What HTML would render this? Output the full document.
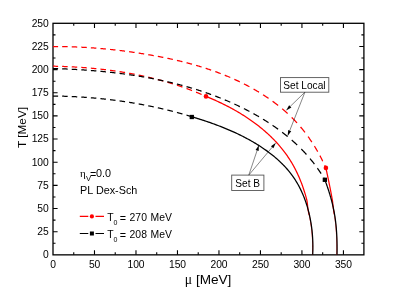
<!DOCTYPE html>
<html><head><meta charset="utf-8"><title>chart</title>
<style>html,body{margin:0;padding:0;background:#fff;}body{width:410px;height:290px;overflow:hidden;position:relative;font-family:"Liberation Sans",sans-serif;}</style>
</head><body>
<svg width="410" height="290" viewBox="0 0 410 290" style="position:absolute;left:0;top:0;will-change:transform">
<rect width="410" height="290" fill="#fff"/>
<path d="M73.75,254.85 v-2.5 M73.75,23.30 v2.5 M94.49,254.85 v-4.6 M94.49,23.30 v4.6 M115.23,254.85 v-2.5 M115.23,23.30 v2.5 M135.98,254.85 v-4.6 M135.98,23.30 v4.6 M156.72,254.85 v-2.5 M156.72,23.30 v2.5 M177.47,254.85 v-4.6 M177.47,23.30 v4.6 M198.22,254.85 v-2.5 M198.22,23.30 v2.5 M218.96,254.85 v-4.6 M218.96,23.30 v4.6 M239.70,254.85 v-2.5 M239.70,23.30 v2.5 M260.45,254.85 v-4.6 M260.45,23.30 v4.6 M281.19,254.85 v-2.5 M281.19,23.30 v2.5 M301.94,254.85 v-4.6 M301.94,23.30 v4.6 M322.69,254.85 v-2.5 M322.69,23.30 v2.5 M343.43,254.85 v-4.6 M343.43,23.30 v4.6 M53.0,243.27 h2.5 M363.90,243.27 h-2.5 M53.0,231.69 h4.6 M363.90,231.69 h-4.6 M53.0,220.12 h2.5 M363.90,220.12 h-2.5 M53.0,208.54 h4.6 M363.90,208.54 h-4.6 M53.0,196.96 h2.5 M363.90,196.96 h-2.5 M53.0,185.38 h4.6 M363.90,185.38 h-4.6 M53.0,173.81 h2.5 M363.90,173.81 h-2.5 M53.0,162.23 h4.6 M363.90,162.23 h-4.6 M53.0,150.65 h2.5 M363.90,150.65 h-2.5 M53.0,139.07 h4.6 M363.90,139.07 h-4.6 M53.0,127.50 h2.5 M363.90,127.50 h-2.5 M53.0,115.92 h4.6 M363.90,115.92 h-4.6 M53.0,104.34 h2.5 M363.90,104.34 h-2.5 M53.0,92.77 h4.6 M363.90,92.77 h-4.6 M53.0,81.19 h2.5 M363.90,81.19 h-2.5 M53.0,69.61 h4.6 M363.90,69.61 h-4.6 M53.0,58.03 h2.5 M363.90,58.03 h-2.5 M53.0,46.46 h4.6 M363.90,46.46 h-4.6 M53.0,34.88 h2.5 M363.90,34.88 h-2.5" stroke="#000" stroke-width="1.1" fill="none"/>
<rect x="53.0" y="23.30" width="310.90" height="231.55" fill="none" stroke="#000" stroke-width="1.3"/>
<path d="M53.00,46.60 L53.62,46.60 L54.24,46.59 L54.87,46.59 L55.49,46.59 L56.11,46.59 L56.73,46.59 L57.36,46.59 L57.98,46.59 L58.10,46.59 M62.17,46.62 L62.35,46.62 L62.97,46.63 L63.60,46.64 L64.23,46.65 L64.85,46.66 L65.48,46.67 L66.10,46.68 L66.73,46.70 L67.36,46.71 L67.67,46.72 M71.73,46.83 L71.75,46.83 L72.38,46.85 L73.01,46.87 L73.64,46.89 L74.26,46.91 L74.89,46.93 L75.52,46.96 L76.15,46.98 L76.78,47.01 L77.23,47.03 M81.30,47.21 L81.82,47.24 L82.45,47.27 L83.09,47.30 L83.72,47.34 L84.35,47.37 L84.98,47.41 L85.61,47.44 L86.24,47.48 L86.80,47.51 M90.86,47.77 L91.30,47.80 L91.93,47.85 L92.57,47.89 L93.20,47.93 L93.83,47.98 L94.46,48.03 L95.10,48.08 L95.73,48.12 L96.36,48.17 M100.43,48.50 L100.80,48.54 L101.43,48.59 L102.06,48.65 L102.70,48.70 L103.33,48.76 L103.97,48.82 L104.60,48.88 L105.23,48.94 L105.87,49.00 L105.93,49.00 M109.99,49.40 L110.31,49.44 L110.94,49.50 L111.57,49.57 L112.21,49.64 L112.84,49.71 L113.48,49.77 L114.11,49.84 L114.74,49.91 L115.38,49.99 L115.49,50.00 M119.56,50.47 L119.81,50.50 L120.45,50.58 L121.08,50.66 L121.72,50.73 L122.35,50.81 L122.98,50.89 L123.62,50.97 L124.25,51.05 L124.88,51.14 L125.06,51.16 M129.12,51.70 L129.31,51.73 L129.95,51.82 L130.58,51.90 L131.21,51.99 L131.85,52.08 L132.48,52.17 L133.11,52.26 L133.74,52.35 L134.37,52.45 L134.62,52.48 M138.69,53.09 L138.80,53.11 L139.43,53.21 L140.06,53.31 L140.69,53.41 L141.32,53.51 L141.95,53.61 L142.58,53.71 L143.21,53.81 L143.84,53.91 L144.19,53.97 M148.25,54.65 L148.88,54.76 L149.50,54.87 L150.13,54.97 L150.76,55.08 L151.39,55.20 L152.02,55.31 L152.64,55.42 L153.27,55.53 L153.75,55.62 M157.82,56.37 L158.29,56.46 L158.91,56.58 L159.54,56.70 L160.16,56.82 L160.79,56.94 L161.41,57.06 L162.04,57.18 L162.66,57.31 L163.28,57.43 L163.32,57.44 M167.38,58.27 L167.64,58.33 L168.27,58.46 L168.89,58.59 L169.51,58.72 L170.13,58.86 L170.75,58.99 L171.37,59.13 L171.99,59.26 L172.61,59.40 L172.88,59.46 M176.95,60.38 L177.56,60.53 L178.18,60.67 L178.80,60.82 L179.41,60.97 L180.03,61.12 L180.64,61.26 L181.26,61.41 L181.88,61.56 L182.45,61.71 M186.51,62.74 L186.79,62.81 L187.40,62.97 L188.01,63.13 L188.62,63.29 L189.23,63.45 L189.84,63.62 L190.45,63.78 L191.06,63.95 L191.67,64.11 L192.01,64.21 M196.08,65.36 L196.54,65.49 L197.14,65.67 L197.75,65.85 L198.35,66.02 L198.96,66.20 L199.56,66.39 L200.17,66.57 L200.77,66.75 L201.37,66.94 L201.58,67.00 M205.64,68.28 L206.18,68.46 L206.78,68.65 L207.38,68.85 L207.98,69.05 L208.58,69.25 L209.17,69.45 L209.77,69.65 L210.37,69.85 L210.96,70.05 L211.14,70.12 M215.21,71.55 L215.71,71.73 L216.30,71.95 L216.89,72.16 L217.48,72.38 L218.07,72.60 L218.66,72.82 L219.25,73.04 L219.84,73.27 L220.43,73.49 L220.71,73.60 M224.77,75.20 L225.11,75.34 L225.70,75.58 L226.28,75.82 L226.86,76.05 L227.44,76.30 L228.02,76.54 L228.60,76.78 L229.18,77.03 L229.76,77.28 L230.27,77.49 M234.34,79.29 L234.37,79.30 L234.95,79.56 L235.52,79.82 L236.09,80.09 L236.67,80.35 L237.24,80.62 L237.81,80.89 L238.38,81.16 L238.95,81.43 L239.52,81.70 L239.84,81.85 M243.90,83.86 L244.05,83.93 L244.61,84.22 L245.17,84.51 L245.73,84.79 L246.29,85.09 L246.86,85.38 L247.42,85.67 L247.97,85.97 L248.53,86.27 L249.09,86.57 L249.40,86.73 M253.47,88.98 L253.53,89.02 L254.08,89.33 L254.63,89.65 L255.18,89.96 L255.73,90.28 L256.28,90.60 L256.83,90.93 L257.37,91.25 L257.92,91.58 L258.46,91.90 L258.97,92.21 M263.03,94.74 L263.32,94.92 L263.86,95.27 L264.39,95.61 L264.92,95.96 L265.45,96.31 L265.98,96.66 L266.51,97.02 L267.04,97.37 L267.57,97.73 L268.09,98.08 L268.53,98.38 M272.60,101.26 L272.77,101.38 L273.28,101.76 L273.79,102.13 L274.30,102.51 L274.81,102.89 L275.32,103.27 L275.82,103.66 L276.33,104.04 L276.83,104.43 L277.33,104.82 L277.83,105.21 L278.10,105.42 M282.16,108.72 L282.26,108.81 L282.75,109.21 L283.23,109.63 L283.71,110.04 L284.19,110.45 L284.67,110.87 L285.14,111.28 L285.62,111.70 L286.09,112.12 L286.56,112.55 L287.03,112.97 L287.49,113.40 L287.66,113.55 M291.73,117.43 L292.06,117.76 L292.51,118.20 L292.95,118.65 L293.39,119.10 L293.83,119.55 L294.27,120.01 L294.70,120.46 L295.14,120.92 L295.57,121.38 L296.00,121.84 L296.43,122.30 L296.85,122.76 L297.00,122.92 M300.57,126.99 L300.59,127.02 L301.00,127.50 L301.40,127.99 L301.80,128.47 L302.20,128.96 L302.60,129.45 L303.00,129.94 L303.39,130.43 L303.78,130.92 L304.17,131.41 L304.56,131.91 L304.94,132.41 L305.00,132.49 M308.03,136.55 L308.33,136.96 L308.69,137.48 L309.06,137.99 L309.42,138.51 L309.78,139.03 L310.14,139.55 L310.49,140.07 L310.85,140.59 L311.20,141.12 L311.55,141.64 L311.82,142.05 M314.42,146.12 L314.62,146.44 L314.95,146.98 L315.28,147.53 L315.61,148.07 L315.93,148.61 L316.26,149.16 L316.58,149.71 L316.90,150.26 L317.22,150.81 L317.53,151.36 L317.68,151.62 M319.92,155.68 L320.00,155.82 L320.30,156.38 L320.59,156.94 L320.89,157.51 L321.18,158.08 L321.47,158.65 L321.76,159.21 L322.05,159.79 L322.34,160.36 L322.62,160.93 L322.75,161.18 M324.69,165.25 L324.84,165.56 L325.11,166.14 L325.37,166.73 L325.64,167.31 L325.90,167.90" fill="none" stroke="#ff0000" stroke-width="1.25" stroke-linejoin="round"/>
<path d="M53.00,66.20 L53.31,66.21 L53.63,66.21 L53.94,66.22 L54.25,66.22 L54.57,66.23 L54.88,66.24 L55.19,66.24 L55.51,66.25 L55.82,66.26 L56.13,66.26 L56.45,66.27 L56.76,66.28 L57.08,66.29 L57.39,66.30 L57.70,66.30 L58.02,66.31 L58.10,66.31 M62.17,66.44 L62.41,66.45 L62.72,66.46 L63.04,66.47 L63.35,66.48 L63.66,66.49 L63.98,66.50 L64.29,66.51 L64.61,66.53 L64.92,66.54 L65.23,66.55 L65.55,66.56 L65.86,66.57 L66.18,66.59 L66.49,66.60 L66.80,66.61 L67.12,66.63 L67.43,66.64 L67.67,66.65 M71.73,66.84 L71.83,66.85 L72.14,66.86 L72.46,66.88 L72.77,66.90 L73.09,66.91 L73.40,66.93 L73.71,66.95 L74.03,66.97 L74.34,66.98 L74.66,67.00 L74.97,67.02 L75.29,67.04 L75.60,67.06 L75.91,67.07 L76.23,67.09 L76.54,67.11 L76.86,67.13 L77.17,67.15 L77.23,67.15 M81.30,67.42 L81.57,67.44 L81.88,67.46 L82.20,67.48 L82.51,67.51 L82.82,67.53 L83.14,67.55 L83.45,67.58 L83.77,67.60 L84.08,67.62 L84.39,67.65 L84.71,67.67 L85.02,67.69 L85.34,67.72 L85.65,67.74 L85.96,67.77 L86.28,67.79 L86.59,67.82 L86.80,67.83 M90.86,68.18 L90.99,68.19 L91.30,68.22 L91.61,68.25 L91.93,68.28 L92.24,68.30 L92.56,68.33 L92.87,68.36 L93.18,68.39 L93.50,68.42 L93.81,68.45 L94.12,68.48 L94.44,68.51 L94.75,68.54 L95.06,68.57 L95.38,68.60 L95.69,68.63 L96.01,68.67 L96.32,68.70 L96.36,68.70 M100.43,69.13 L100.71,69.16 L101.02,69.19 L101.33,69.23 L101.65,69.26 L101.96,69.30 L102.27,69.34 L102.59,69.37 L102.90,69.41 L103.21,69.44 L103.52,69.48 L103.84,69.52 L104.15,69.55 L104.46,69.59 L104.78,69.63 L105.09,69.66 L105.40,69.70 L105.72,69.74 L105.93,69.77 M109.99,70.28 L110.09,70.29 L110.40,70.34 L110.72,70.38 L111.03,70.42 L111.34,70.46 L111.65,70.50 L111.97,70.55 L112.28,70.59 L112.59,70.63 L112.90,70.67 L113.21,70.72 L113.53,70.76 L113.84,70.80 L114.15,70.85 L114.46,70.89 L114.77,70.94 L115.09,70.98 L115.40,71.03 L115.49,71.04 M119.56,71.65 L119.76,71.68 L120.07,71.73 L120.38,71.78 L120.69,71.83 L121.01,71.88 L121.32,71.92 L121.63,71.97 L121.94,72.02 L122.25,72.07 L122.56,72.12 L122.87,72.17 L123.18,72.23 L123.49,72.28 L123.80,72.33 L124.11,72.38 L124.43,72.43 L124.74,72.48 L125.05,72.54 L125.06,72.54 M129.12,73.24 L129.39,73.29 L129.70,73.35 L130.01,73.40 L130.32,73.46 L130.63,73.52 L130.94,73.57 L131.25,73.63 L131.56,73.69 L131.87,73.75 L132.18,73.80 L132.49,73.86 L132.80,73.92 L133.10,73.98 L133.41,74.04 L133.72,74.10 L134.03,74.16 L134.34,74.22 L134.62,74.27 M138.69,75.08 L138.97,75.14 L139.28,75.20 L139.59,75.27 L139.90,75.33 L140.20,75.40 L140.51,75.46 L140.82,75.52 L141.13,75.59 L141.44,75.66 L141.74,75.72 L142.05,75.79 L142.36,75.85 L142.67,75.92 L142.97,75.99 L143.28,76.05 L143.59,76.12 L143.90,76.19 L144.19,76.25 M148.25,77.18 L148.50,77.23 L148.80,77.30 L149.11,77.38 L149.42,77.45 L149.72,77.52 L150.03,77.59 L150.33,77.67 L150.64,77.74 L150.94,77.81 L151.25,77.89 L151.56,77.96 L151.86,78.04 L152.17,78.11 L152.47,78.19 L152.78,78.26 L153.08,78.34 L153.39,78.41 L153.69,78.49 L153.75,78.50 M157.82,79.54 L157.96,79.58 L158.26,79.66 L158.57,79.74 L158.87,79.82 L159.17,79.90 L159.48,79.99 L159.78,80.07 L160.08,80.15 L160.39,80.23 L160.69,80.31 L160.99,80.40 L161.30,80.48 L161.60,80.56 L161.90,80.65 L162.21,80.73 L162.51,80.81 L162.81,80.90 L163.11,80.98 L163.32,81.04 M167.38,82.21 L167.65,82.28 L167.95,82.37 L168.25,82.46 L168.55,82.55 L168.85,82.64 L169.15,82.73 L169.45,82.82 L169.75,82.91 L170.05,83.01 L170.35,83.10 L170.66,83.19 L170.96,83.28 L171.26,83.37 L171.56,83.47 L171.86,83.56 L172.16,83.65 L172.46,83.75 L172.76,83.84 L172.88,83.88 M176.95,85.18 L176.95,85.18 L177.25,85.28 L177.54,85.38 L177.84,85.48 L178.14,85.58 L178.44,85.68 L178.74,85.78 L179.04,85.88 L179.33,85.98 L179.63,86.08 L179.93,86.18 L180.23,86.28 L180.52,86.38 L180.82,86.48 L181.12,86.59 L181.42,86.69 L181.71,86.79 L182.01,86.89 L182.31,87.00 L182.45,87.05 M186.51,88.50 L186.75,88.58 L187.04,88.69 L187.34,88.80 L187.63,88.91 L187.93,89.02 L188.22,89.13 L188.52,89.24 L188.81,89.35 L189.11,89.46 L189.40,89.57 L189.70,89.68 L189.99,89.79 L190.29,89.90 L190.58,90.01 L190.87,90.13 L191.17,90.24 L191.46,90.35 L191.75,90.46 L192.01,90.56 M196.08,92.17 L196.14,92.20 L196.44,92.32 L196.73,92.44 L197.02,92.56 L197.31,92.67 L197.60,92.79 L197.89,92.91 L198.18,93.03 L198.48,93.15 L198.77,93.28 L199.06,93.40 L199.35,93.52 L199.64,93.64 L199.93,93.76 L200.22,93.88 L200.51,94.01 L200.80,94.13 L201.09,94.25 L201.38,94.38 L201.58,94.46 M205.64,96.24 L205.71,96.27 L206.00,96.40" fill="none" stroke="#ff0000" stroke-width="1.25" stroke-linejoin="round"/>
<path d="M325.90,167.90 L326.01,168.44 L326.13,168.98 L326.24,169.52 L326.36,170.06 L326.47,170.60 L326.59,171.14 L326.70,171.68 L326.82,172.22 L326.93,172.76 L327.05,173.30 L327.16,173.84 L327.28,174.38 L327.39,174.92 L327.50,175.46 L327.62,176.00 L327.73,176.54 L327.85,177.08 L327.96,177.63 L328.07,178.17 L328.19,178.71 L328.30,179.25 L328.41,179.79 L328.52,180.33 L328.64,180.87 L328.75,181.41 L328.86,181.96 L328.97,182.50 L329.08,183.04 L329.19,183.58 L329.30,184.12 L329.41,184.67 L329.52,185.21 L329.63,185.75 L329.74,186.29 L329.85,186.83 L329.96,187.38 L330.07,187.92 L330.17,188.46 L330.28,189.00 L330.39,189.55 L330.49,190.09 L330.60,190.63 L330.70,191.18 L330.81,191.72 L330.91,192.26 L331.02,192.81 L331.12,193.35 L331.22,193.89 L331.33,194.44 L331.43,194.98 L331.53,195.52 L331.63,196.07 L331.73,196.61 L331.83,197.16 L331.93,197.70 L332.03,198.24 L332.13,198.79 L332.22,199.33 L332.32,199.88 L332.41,200.42 L332.49,200.97 L332.57,201.51 L332.63,202.06 L332.69,202.60 L332.75,203.15 L332.81,203.69 L332.86,204.24 L332.91,204.78 L332.97,205.33 L333.03,205.87 L333.09,206.42 L333.15,206.96 L333.22,207.51 L333.29,208.06 L333.36,208.60 L333.44,209.15 L333.52,209.69 L333.60,210.24 L333.69,210.79 L333.78,211.33 L333.87,211.88 L333.97,212.43 L334.06,212.97 L334.16,213.52 L334.25,214.07" fill="none" stroke="#ff0000" stroke-width="1.25" stroke-linejoin="round"/>
<path d="M334.25,214.07 L334.35,214.61 L334.44,215.16 L334.53,215.71 L334.61,216.26 L334.70,216.80 L334.78,217.35 L334.86,217.90 L334.94,218.45 L335.02,218.99 L335.09,219.54 L335.17,220.09 L335.24,220.64 L335.31,221.19 L335.37,221.74 L335.44,222.28 L335.50,222.83 L335.57,223.38 L335.63,223.93 L335.68,224.48 L335.74,225.03 L335.80,225.58 L335.85,226.13 L335.90,226.68 L335.95,227.23 L336.00,227.78 L336.05,228.33 L336.09,228.88 L336.14,229.43 L336.18,229.98 L336.22,230.53 L336.26,231.08 L336.30,231.63 L336.33,232.18 L336.37,232.73 L336.40,233.28 L336.43,233.83 L336.46,234.38 L336.49,234.93 L336.52,235.48 L336.55,236.03 L336.57,236.59 L336.60,237.14 L336.62,237.69 L336.64,238.24 L336.66,238.79 L336.68,239.34 L336.69,239.90 L336.71,240.45 L336.73,241.00 L336.74,241.55 L336.75,242.11 L336.76,242.66 L336.77,243.21 L336.78,243.77 L336.79,244.32 L336.80,244.87 L336.80,245.42 L336.81,245.98 L336.81,246.53 L336.81,247.09 L336.82,247.64 L336.82,248.19 L336.82,248.75 L336.81,249.30 L336.81,249.86 L336.81,250.41 L336.80,250.96 L336.80,251.52 L336.79,252.07 L336.79,252.63 L336.78,253.18 L336.77,253.74 L336.76,254.29 L336.75,254.85" fill="none" stroke="#ff0000" stroke-width="0.8" stroke-linejoin="round"/>
<path d="M206.00,96.40 L207.19,96.88 L208.38,97.37 L209.56,97.87 L210.75,98.37 L211.93,98.87 L213.12,99.39 L214.30,99.91 L215.48,100.44 L216.66,100.97 L217.84,101.51 L219.02,102.06 L220.19,102.61 L221.36,103.17 L222.53,103.74 L223.70,104.32 L224.87,104.90 L226.03,105.48 L227.19,106.08 L228.35,106.68 L229.50,107.29 L230.66,107.90 L231.80,108.52 L232.95,109.15 L234.09,109.79 L235.23,110.43 L236.36,111.08 L237.49,111.74 L238.62,112.40 L239.74,113.07 L240.86,113.75 L241.97,114.43 L243.08,115.12 L244.18,115.82 L245.28,116.53 L246.37,117.24 L247.46,117.96 L248.54,118.69 L249.62,119.42 L250.69,120.16 L251.75,120.91 L252.81,121.67 L253.87,122.43 L254.92,123.20 L255.96,123.98 L256.99,124.76 L258.02,125.56 L259.04,126.36 L260.06,127.16 L261.06,127.98 L262.06,128.80 L263.06,129.63 L264.04,130.47 L265.02,131.31 L265.99,132.16 L266.95,133.02 L267.91,133.89 L268.86,134.77 L269.79,135.65 L270.72,136.54 L271.65,137.44 L272.56,138.34 L273.46,139.26 L274.36,140.18 L275.24,141.11 L276.12,142.04 L276.99,142.99 L277.85,143.94 L278.69,144.90 L279.53,145.86 L280.36,146.84 L281.18,147.82 L281.99,148.81 L282.79,149.81 L283.57,150.82 L284.35,151.84 L285.12,152.86 L285.87,153.89 L286.62,154.93 L287.35,155.98 L288.07,157.03 L288.78,158.09 L289.48,159.17 L290.17,160.25 L290.84,161.33 L291.51,162.43 L292.16,163.53 L292.80,164.64 L293.43,165.76 L294.05,166.89 L294.65,168.02 L295.25,169.16 L295.83,170.30 L296.41,171.46 L296.97,172.62 L297.52,173.78 L298.06,174.95 L298.59,176.13 L299.11,177.32 L299.62,178.51 L300.11,179.70 L300.60,180.90 L301.07,182.11 L301.54,183.32 L301.99,184.54 L302.44,185.76 L302.87,186.99 L303.30,188.22 L303.71,189.45 L304.11,190.69 L304.51,191.94 L304.89,193.18 L305.26,194.44 L305.63,195.69 L305.98,196.95 L306.32,198.21 L306.66,199.48 L306.96,200.75 L307.18,202.02 L307.34,203.29 L307.47,204.57 L307.59,205.85 L307.72,207.13 L307.88,208.42 L308.07,209.70 L308.30,210.99 L308.57,212.28 L308.87,213.57 L309.17,214.86" fill="none" stroke="#ff0000" stroke-width="1.25" stroke-linejoin="round"/>
<path d="M309.17,214.86 L309.46,216.16 L309.73,217.45 L309.99,218.75 L310.23,220.05 L310.47,221.34 L310.69,222.64 L310.89,223.94 L311.09,225.24 L311.27,226.54 L311.44,227.84 L311.60,229.14 L311.75,230.44 L311.89,231.74 L312.01,233.03 L312.12,234.33 L312.23,235.63 L312.31,236.92 L312.39,238.21 L312.46,239.51 L312.52,240.80 L312.56,242.09 L312.60,243.37 L312.62,244.66 L312.64,245.94 L312.64,247.22 L312.63,248.50 L312.62,249.78 L312.59,251.05 L312.55,252.32 L312.51,253.59 L312.45,254.85" fill="none" stroke="#ff0000" stroke-width="0.8" stroke-linejoin="round"/>
<path d="M53.00,68.50 L53.60,68.52 L54.20,68.54 L54.81,68.55 L55.41,68.57 L56.01,68.59 L56.62,68.61 L57.22,68.63 L57.82,68.65 L58.10,68.66 M62.17,68.81 L62.66,68.83 L63.26,68.86 L63.87,68.88 L64.48,68.91 L65.08,68.93 L65.69,68.96 L66.29,68.99 L66.90,69.01 L67.51,69.04 L67.67,69.05 M71.73,69.25 L71.76,69.25 L72.36,69.28 L72.97,69.31 L73.58,69.34 L74.19,69.38 L74.80,69.41 L75.41,69.44 L76.02,69.48 L76.62,69.51 L77.23,69.55 M81.30,69.80 L81.50,69.81 L82.11,69.85 L82.72,69.89 L83.33,69.93 L83.94,69.97 L84.55,70.02 L85.16,70.06 L85.77,70.10 L86.38,70.14 L86.80,70.17 M90.86,70.48 L91.27,70.51 L91.88,70.56 L92.49,70.61 L93.10,70.66 L93.71,70.71 L94.33,70.76 L94.94,70.81 L95.55,70.86 L96.16,70.91 L96.36,70.93 M100.43,71.30 L100.44,71.30 L101.06,71.35 L101.67,71.41 L102.28,71.47 L102.89,71.53 L103.50,71.59 L104.12,71.65 L104.73,71.71 L105.34,71.77 L105.93,71.83 M109.99,72.26 L110.24,72.29 L110.85,72.35 L111.46,72.42 L112.08,72.49 L112.69,72.56 L113.30,72.63 L113.91,72.70 L114.52,72.77 L115.14,72.84 L115.49,72.88 M119.56,73.38 L120.03,73.44 L120.64,73.52 L121.26,73.59 L121.87,73.67 L122.48,73.75 L123.09,73.83 L123.70,73.91 L124.31,74.00 L124.93,74.08 L125.06,74.10 M129.12,74.66 L129.20,74.68 L129.81,74.77 L130.42,74.85 L131.04,74.94 L131.65,75.03 L132.26,75.13 L132.87,75.22 L133.48,75.31 L134.09,75.40 L134.62,75.49 M138.69,76.13 L138.96,76.18 L139.57,76.28 L140.18,76.38 L140.79,76.48 L141.40,76.58 L142.01,76.68 L142.62,76.79 L143.23,76.89 L143.83,77.00 L144.19,77.06 M148.25,77.79 L148.69,77.87 L149.30,77.98 L149.91,78.09 L150.51,78.21 L151.12,78.32 L151.73,78.44 L152.33,78.56 L152.94,78.67 L153.54,78.79 L153.75,78.83 M157.82,79.65 L158.38,79.77 L158.99,79.89 L159.59,80.02 L160.19,80.14 L160.80,80.27 L161.40,80.40 L162.00,80.53 L162.60,80.66 L163.21,80.79 L163.32,80.82 M167.38,81.73 L167.42,81.74 L168.02,81.88 L168.62,82.02 L169.22,82.16 L169.82,82.30 L170.42,82.44 L171.02,82.58 L171.62,82.72 L172.22,82.87 L172.81,83.01 L172.88,83.03 M176.95,84.04 L177.00,84.06 L177.59,84.21 L178.19,84.36 L178.78,84.52 L179.38,84.67 L179.98,84.83 L180.57,84.99 L181.16,85.15 L181.76,85.30 L182.35,85.46 L182.45,85.49 M186.51,86.61 L187.09,86.78 L187.69,86.95 L188.28,87.12 L188.87,87.29 L189.46,87.46 L190.05,87.63 L190.64,87.80 L191.23,87.98 L191.82,88.15 L192.01,88.21 M196.08,89.45 L196.51,89.59 L197.10,89.77 L197.69,89.96 L198.27,90.15 L198.86,90.33 L199.44,90.52 L200.02,90.71 L200.61,90.90 L201.19,91.09 L201.58,91.22 M205.64,92.59 L205.84,92.66 L206.42,92.86 L207.00,93.06 L207.58,93.26 L208.16,93.46 L208.74,93.67 L209.31,93.87 L209.89,94.08 L210.47,94.29 L211.05,94.50 L211.14,94.53 M215.21,96.04 L215.64,96.20 L216.21,96.42 L216.79,96.64 L217.36,96.86 L217.93,97.08 L218.50,97.31 L219.07,97.53 L219.64,97.75 L220.21,97.98 L220.71,98.18 M224.77,99.84 L225.31,100.06 L225.88,100.30 L226.44,100.54 L227.00,100.77 L227.57,101.02 L228.13,101.26 L228.69,101.50 L229.25,101.74 L229.81,101.99 L230.27,102.19 M234.34,104.01 L234.84,104.24 L235.40,104.50 L235.95,104.75 L236.51,105.01 L237.06,105.27 L237.62,105.53 L238.17,105.80 L238.72,106.06 L239.28,106.32 L239.83,106.59 L239.84,106.59 M243.90,108.59 L244.22,108.75 L244.77,109.03 L245.31,109.31 L245.86,109.59 L246.40,109.87 L246.95,110.15 L247.49,110.43 L248.04,110.71 L248.58,111.00 L249.12,111.28 L249.40,111.43 M253.47,113.63 L253.97,113.91 L254.51,114.21 L255.04,114.51 L255.58,114.81 L256.11,115.11 L256.64,115.42 L257.18,115.72 L257.71,116.03 L258.24,116.33 L258.77,116.64 L258.97,116.76 M263.03,119.18 L263.51,119.47 L264.03,119.80 L264.55,120.12 L265.07,120.44 L265.59,120.77 L266.11,121.09 L266.63,121.42 L267.14,121.75 L267.66,122.08 L268.17,122.41 L268.53,122.64 M272.60,125.34 L272.77,125.46 L273.27,125.81 L273.78,126.15 L274.28,126.50 L274.78,126.85 L275.29,127.20 L275.79,127.55 L276.29,127.91 L276.78,128.26 L277.28,128.62 L277.78,128.98 L278.10,129.21 M282.16,132.24 L282.19,132.26 L282.68,132.63 L283.16,133.01 L283.64,133.38 L284.12,133.76 L284.60,134.14 L285.08,134.52 L285.56,134.90 L286.04,135.28 L286.51,135.66 L286.99,136.05 L287.46,136.43 L287.66,136.60 M291.73,140.04 L292.11,140.38 L292.57,140.78 L293.03,141.19 L293.48,141.60 L293.93,142.00 L294.39,142.41 L294.84,142.82 L295.29,143.23 L295.73,143.65 L296.18,144.06 L296.63,144.48 L297.07,144.90 L297.23,145.05 M301.28,149.02 L301.42,149.16 L301.85,149.60 L302.27,150.04 L302.70,150.48 L303.12,150.92 L303.54,151.36 L303.96,151.80 L304.38,152.24 L304.79,152.69 L305.21,153.14 L305.62,153.59 L306.03,154.04 L306.44,154.49 L306.47,154.52 M310.00,158.59 L310.04,158.64 L310.43,159.11 L310.82,159.58 L311.21,160.05 L311.60,160.53 L311.98,161.00 L312.36,161.48 L312.74,161.96 L313.12,162.44 L313.50,162.92 L313.88,163.41 L314.25,163.89 L314.40,164.09 M317.39,168.15 L317.52,168.34 L317.88,168.84 L318.23,169.35 L318.58,169.85 L318.93,170.36 L319.28,170.87 L319.62,171.38 L319.96,171.89 L320.30,172.41 L320.64,172.93 L320.98,173.44 L321.11,173.65 M323.63,177.72 L323.91,178.19 L324.23,178.72 L324.54,179.26 L324.85,179.80" fill="none" stroke="#000000" stroke-width="1.25" stroke-linejoin="round"/>
<path d="M53.00,96.00 L53.28,96.00 L53.56,96.01 L53.85,96.01 L54.13,96.01 L54.41,96.02 L54.69,96.02 L54.97,96.03 L55.26,96.03 L55.54,96.04 L55.82,96.04 L56.10,96.05 L56.38,96.05 L56.66,96.06 L56.95,96.06 L57.23,96.07 L57.51,96.07 L57.79,96.08 L58.07,96.08 L58.10,96.08 M62.17,96.19 L62.30,96.19 L62.59,96.20 L62.87,96.21 L63.15,96.21 L63.43,96.22 L63.71,96.23 L64.00,96.24 L64.28,96.25 L64.56,96.26 L64.84,96.27 L65.12,96.28 L65.41,96.29 L65.69,96.30 L65.97,96.31 L66.25,96.32 L66.53,96.33 L66.81,96.34 L67.10,96.35 L67.38,96.36 L67.66,96.37 L67.67,96.37 M71.73,96.54 L71.89,96.55 L72.17,96.56 L72.45,96.57 L72.73,96.59 L73.02,96.60 L73.30,96.61 L73.58,96.63 L73.86,96.64 L74.14,96.66 L74.43,96.67 L74.71,96.68 L74.99,96.70 L75.27,96.71 L75.55,96.73 L75.83,96.74 L76.12,96.76 L76.40,96.77 L76.68,96.79 L76.96,96.80 L77.23,96.82 M81.30,97.06 L81.47,97.07 L81.75,97.09 L82.03,97.11 L82.31,97.13 L82.60,97.15 L82.88,97.17 L83.16,97.18 L83.44,97.20 L83.72,97.22 L84.00,97.24 L84.29,97.26 L84.57,97.28 L84.85,97.30 L85.13,97.32 L85.41,97.34 L85.69,97.36 L85.98,97.38 L86.26,97.40 L86.54,97.42 L86.80,97.44 M90.86,97.76 L91.04,97.77 L91.32,97.79 L91.60,97.82 L91.89,97.84 L92.17,97.86 L92.45,97.89 L92.73,97.91 L93.01,97.94 L93.29,97.96 L93.57,97.98 L93.85,98.01 L94.14,98.03 L94.42,98.06 L94.70,98.08 L94.98,98.11 L95.26,98.13 L95.54,98.16 L95.82,98.18 L96.10,98.21 L96.36,98.23 M100.43,98.62 L100.60,98.64 L100.88,98.67 L101.16,98.70 L101.44,98.73 L101.72,98.76 L102.00,98.79 L102.28,98.81 L102.57,98.84 L102.85,98.87 L103.13,98.90 L103.41,98.93 L103.69,98.96 L103.97,98.99 L104.25,99.02 L104.53,99.05 L104.81,99.08 L105.09,99.11 L105.37,99.14 L105.65,99.18 L105.93,99.21 M109.99,99.67 L110.14,99.69 L110.42,99.72 L110.70,99.76 L110.98,99.79 L111.26,99.83 L111.54,99.86 L111.82,99.89 L112.10,99.93 L112.38,99.96 L112.66,100.00 L112.94,100.03 L113.22,100.07 L113.50,100.10 L113.78,100.14 L114.06,100.17 L114.34,100.21 L114.62,100.25 L114.90,100.28 L115.18,100.32 L115.46,100.35 L115.49,100.36 M119.56,100.90 L119.66,100.92 L119.94,100.96 L120.22,101.00 L120.50,101.04 L120.78,101.08 L121.06,101.11 L121.34,101.15 L121.62,101.19 L121.89,101.23 L122.17,101.27 L122.45,101.31 L122.73,101.36 L123.01,101.40 L123.29,101.44 L123.57,101.48 L123.85,101.52 L124.13,101.56 L124.41,101.60 L124.69,101.64 L124.97,101.68 L125.06,101.70 M129.12,102.33 L129.15,102.33 L129.43,102.37 L129.71,102.42 L129.99,102.46 L130.27,102.51 L130.54,102.55 L130.82,102.60 L131.10,102.64 L131.38,102.69 L131.66,102.73 L131.94,102.78 L132.22,102.83 L132.49,102.87 L132.77,102.92 L133.05,102.97 L133.33,103.01 L133.61,103.06 L133.89,103.11 L134.16,103.15 L134.44,103.20 L134.62,103.23 M138.69,103.94 L138.89,103.98 L139.17,104.03 L139.45,104.08 L139.72,104.13 L140.00,104.18 L140.28,104.23 L140.56,104.28 L140.83,104.33 L141.11,104.38 L141.39,104.43 L141.67,104.48 L141.94,104.54 L142.22,104.59 L142.50,104.64 L142.78,104.69 L143.05,104.74 L143.33,104.80 L143.61,104.85 L143.89,104.90 L144.16,104.95 L144.19,104.96 M148.25,105.75 L148.32,105.77 L148.59,105.82 L148.87,105.88 L149.15,105.94 L149.42,105.99 L149.70,106.05 L149.98,106.10 L150.25,106.16 L150.53,106.22 L150.80,106.27 L151.08,106.33 L151.36,106.39 L151.63,106.45 L151.91,106.50 L152.19,106.56 L152.46,106.62 L152.74,106.68 L153.01,106.74 L153.29,106.79 L153.57,106.85 L153.75,106.89 M157.82,107.78 L157.98,107.81 L158.25,107.87 L158.53,107.93 L158.80,108.00 L159.08,108.06 L159.35,108.12 L159.63,108.18 L159.90,108.25 L160.18,108.31 L160.45,108.37 L160.73,108.43 L161.00,108.50 L161.28,108.56 L161.55,108.62 L161.83,108.69 L162.10,108.75 L162.38,108.81 L162.65,108.88 L162.93,108.94 L163.20,109.01 L163.32,109.03 M167.38,110.01 L167.59,110.06 L167.87,110.13 L168.14,110.20 L168.41,110.26 L168.69,110.33 L168.96,110.40 L169.24,110.47 L169.51,110.54 L169.78,110.61 L170.06,110.67 L170.33,110.74 L170.60,110.81 L170.88,110.88 L171.15,110.95 L171.42,111.02 L171.70,111.09 L171.97,111.16 L172.24,111.23 L172.52,111.30 L172.79,111.37 L172.88,111.39 M176.95,112.46 L177.16,112.52 L177.43,112.59 L177.70,112.67 L177.97,112.74 L178.25,112.82 L178.52,112.89 L178.79,112.96 L179.06,113.04 L179.33,113.11 L179.61,113.19 L179.88,113.26 L180.15,113.34 L180.42,113.41 L180.69,113.49 L180.97,113.56 L181.24,113.64 L181.51,113.72 L181.78,113.79 L182.05,113.87 L182.32,113.95 L182.45,113.98 M186.51,115.15 L186.66,115.19 L186.93,115.27 L187.21,115.35 L187.48,115.43 L187.75,115.51 L188.02,115.59 L188.29,115.67 L188.56,115.75 L188.83,115.83 L189.10,115.92 L189.37,116.00 L189.64,116.08 L189.91,116.16 L190.18,116.24 L190.45,116.32 L190.72,116.40 L190.99,116.49 L191.26,116.57 L191.53,116.65 L191.80,116.73" fill="none" stroke="#000000" stroke-width="1.25" stroke-linejoin="round"/>
<path d="M324.85,179.80 L325.02,180.25 L325.19,180.70 L325.35,181.15 L325.52,181.60 L325.69,182.05 L325.85,182.51 L326.02,182.96 L326.18,183.41 L326.34,183.86 L326.50,184.32 L326.66,184.77 L326.82,185.23 L326.98,185.68 L327.14,186.14 L327.30,186.59 L327.45,187.05 L327.61,187.50 L327.76,187.96 L327.92,188.42 L328.07,188.87 L328.22,189.33 L328.37,189.79 L328.52,190.25 L328.67,190.71 L328.81,191.17 L328.96,191.63 L329.10,192.09 L329.25,192.55 L329.39,193.01 L329.53,193.47 L329.67,193.93 L329.81,194.39 L329.95,194.85 L330.09,195.31 L330.22,195.78 L330.36,196.24 L330.49,196.70 L330.62,197.17 L330.76,197.63 L330.89,198.09 L331.01,198.56 L331.14,199.02 L331.27,199.49 L331.39,199.95 L331.52,200.42 L331.64,200.89 L331.76,201.35 L331.88,201.82 L332.00,202.29 L332.12,202.75 L332.23,203.22 L332.35,203.69 L332.46,204.16 L332.57,204.63 L332.68,205.09 L332.79,205.56 L332.90,206.03 L333.01,206.50 L333.11,206.97 L333.21,207.44 L333.32,207.91 L333.42,208.38 L333.51,208.85 L333.61,209.32 L333.71,209.80 L333.80,210.27 L333.89,210.74 L333.99,211.21 L334.08,211.68 L334.16,212.16 L334.25,212.63 L334.34,213.10 L334.42,213.57 L334.50,214.05 L334.58,214.52 L334.66,215.00 L334.74,215.47 L334.81,215.94 L334.89,216.42 L334.96,216.89 L335.03,217.37 L335.10,217.84 L335.17,218.32 L335.24,218.79 L335.31,219.27 L335.37,219.75 L335.43,220.22 L335.49,220.70 L335.55,221.17 L335.61,221.65 L335.67,222.13 L335.73,222.61 L335.78,223.08 L335.83,223.56 L335.89,224.04 L335.94,224.52 L335.99,224.99 L336.04,225.47 L336.08,225.95 L336.13,226.43 L336.17,226.91 L336.22,227.39 L336.26,227.87 L336.30,228.34 L336.34,228.82 L336.38,229.30 L336.41,229.78 L336.45,230.26 L336.49,230.74 L336.52,231.22 L336.55,231.70 L336.58,232.18 L336.61,232.66 L336.64,233.14 L336.67,233.62 L336.70,234.10 L336.73,234.58 L336.75,235.07 L336.77,235.55 L336.80,236.03 L336.82,236.51 L336.84,236.99 L336.86,237.47 L336.88,237.95 L336.90,238.44 L336.91,238.92 L336.93,239.40 L336.94,239.88 L336.96,240.36 L336.97,240.84 L336.98,241.33 L337.00,241.81 L337.01,242.29 L337.02,242.77 L337.02,243.26 L337.03,243.74 L337.04,244.22 L337.05,244.70 L337.05,245.19 L337.05,245.67 L337.06,246.15 L337.06,246.64 L337.06,247.12 L337.07,247.60 L337.07,248.08 L337.07,248.57 L337.06,249.05 L337.06,249.53 L337.06,250.02 L337.06,250.50 L337.05,250.98 L337.05,251.47 L337.04,251.95 L337.04,252.43 L337.03,252.92 L337.02,253.40 L337.02,253.88 L337.01,254.37 L337.00,254.85" fill="none" stroke="#000000" stroke-width="1.25" stroke-linejoin="round"/>
<path d="M191.80,116.73 L192.98,117.09 L194.17,117.44 L195.35,117.80 L196.54,118.17 L197.73,118.53 L198.91,118.91 L200.10,119.28 L201.30,119.67 L202.49,120.05 L203.68,120.44 L204.87,120.84 L206.07,121.24 L207.26,121.64 L208.46,122.05 L209.65,122.46 L210.85,122.88 L212.04,123.31 L213.23,123.73 L214.43,124.17 L215.62,124.61 L216.81,125.05 L218.01,125.50 L219.20,125.96 L220.39,126.42 L221.58,126.89 L222.76,127.36 L223.95,127.84 L225.14,128.32 L226.32,128.81 L227.50,129.30 L228.68,129.81 L229.86,130.31 L231.03,130.83 L232.21,131.35 L233.38,131.87 L234.55,132.40 L235.71,132.94 L236.88,133.49 L238.04,134.04 L239.19,134.60 L240.35,135.16 L241.50,135.73 L242.65,136.31 L243.79,136.89 L244.93,137.49 L246.07,138.09 L247.21,138.69 L248.34,139.30 L249.46,139.92 L250.58,140.55 L251.70,141.19 L252.81,141.83 L253.92,142.48 L255.03,143.14 L256.12,143.80 L257.22,144.47 L258.31,145.15 L259.39,145.84 L260.47,146.54 L261.54,147.24 L262.61,147.95 L263.67,148.67 L264.73,149.40 L265.77,150.13 L266.81,150.88 L267.85,151.63 L268.88,152.39 L269.89,153.16 L270.91,153.94 L271.91,154.73 L272.90,155.52 L273.89,156.33 L274.86,157.14 L275.83,157.96 L276.79,158.79 L277.74,159.63 L278.68,160.48 L279.60,161.34 L280.52,162.20 L281.43,163.08 L282.32,163.97 L283.21,164.86 L284.08,165.77 L284.94,166.68 L285.79,167.60 L286.63,168.54 L287.45,169.48 L288.26,170.43 L289.06,171.40 L289.85,172.37 L290.62,173.35 L291.37,174.35 L292.12,175.35 L292.85,176.36 L293.56,177.39 L294.26,178.42 L294.95,179.46 L295.62,180.51 L296.28,181.58 L296.92,182.65 L297.55,183.73 L298.17,184.81 L298.77,185.91 L299.36,187.02 L299.93,188.13 L300.50,189.25 L301.04,190.38 L301.58,191.51 L302.10,192.66 L302.61,193.81 L303.10,194.96 L303.58,196.13 L304.05,197.30 L304.51,198.48 L304.95,199.66 L305.38,200.85 L305.80,202.04 L306.20,203.24 L306.60,204.45 L306.97,205.66 L307.34,206.88 L307.70,208.10 L308.04,209.32 L308.37,210.55 L308.68,211.79 L308.99,213.02 L309.28,214.27 L309.56,215.51 L309.83,216.76 L310.09,218.01 L310.34,219.27 L310.57,220.52 L310.79,221.78 L311.00,223.05 L311.20,224.31 L311.39,225.58 L311.57,226.85 L311.73,228.12 L311.88,229.39 L312.03,230.67 L312.16,231.94 L312.28,233.22 L312.39,234.49 L312.49,235.77 L312.57,237.05 L312.65,238.32 L312.72,239.60 L312.77,240.88 L312.82,242.15 L312.85,243.43 L312.87,244.70 L312.89,245.98 L312.89,247.25 L312.88,248.52 L312.87,249.79 L312.84,251.06 L312.80,252.33 L312.76,253.59 L312.70,254.85" fill="none" stroke="#000000" stroke-width="1.25" stroke-linejoin="round"/>
<circle cx="325.9" cy="167.9" r="2.3" fill="#ff0000"/>
<circle cx="206.0" cy="96.4" r="2.3" fill="#ff0000"/>
<rect x="322.70" y="177.65" width="4.3" height="4.3" fill="#000000"/>
<rect x="189.65" y="114.85" width="4.3" height="4.3" fill="#000000"/>
<g font-family="Liberation Sans, sans-serif" font-size="10.3" fill="#000" letter-spacing="-0.12">
<text x="53.00" y="267.9" text-anchor="middle">0</text>
<text x="94.49" y="267.9" text-anchor="middle">50</text>
<text x="135.98" y="267.9" text-anchor="middle">100</text>
<text x="177.47" y="267.9" text-anchor="middle">150</text>
<text x="218.96" y="267.9" text-anchor="middle">200</text>
<text x="260.45" y="267.9" text-anchor="middle">250</text>
<text x="301.94" y="267.9" text-anchor="middle">300</text>
<text x="343.43" y="267.9" text-anchor="middle">350</text>
<text x="48.5" y="258.15" text-anchor="end">0</text>
<text x="48.5" y="235.00" text-anchor="end">25</text>
<text x="48.5" y="211.84" text-anchor="end">50</text>
<text x="48.5" y="188.69" text-anchor="end">75</text>
<text x="48.5" y="165.53" text-anchor="end">100</text>
<text x="48.5" y="142.38" text-anchor="end">125</text>
<text x="48.5" y="119.22" text-anchor="end">150</text>
<text x="48.5" y="96.07" text-anchor="end">175</text>
<text x="48.5" y="72.91" text-anchor="end">200</text>
<text x="48.5" y="49.76" text-anchor="end">225</text>
<text x="48.5" y="26.60" text-anchor="end">250</text>
</g>
<g font-family="Liberation Sans, sans-serif" fill="#000">
<text y="284.3" font-size="13.6"><tspan font-family="Liberation Serif, serif" x="184.7">μ</tspan><tspan x="195.9">[MeV]</tspan></text>
<text transform="translate(25.6,148.0) rotate(-90)" font-size="11.8">T [MeV]</text>
<text x="80.0" y="176.9" font-size="10.8"><tspan font-family="Liberation Serif, serif" font-size="11">η</tspan><tspan font-size="7.6" dy="3.6" x="85.9">V</tspan><tspan dy="-2.3" x="90.1">=</tspan><tspan dy="-1.3" x="96.1">0.0</tspan></text>
<text x="80.1" y="194.1" font-size="10.8">PL Dex-Sch</text>
<path d="M79.8,216.4 H88.3 M95.5,216.4 H104" stroke="#ff0000" stroke-width="1.1"/>
<circle cx="91.9" cy="216.4" r="2.1" fill="#ff0000"/>
<text x="107.2" y="220.7" font-size="10.4">T<tspan font-size="7" dy="4.3" x="113.4">0</tspan><tspan dy="-3.5" x="119.7" font-size="10.8">=</tspan><tspan dy="-0.8" x="129.6">270</tspan><tspan x="150.5">MeV</tspan></text>
<path d="M79.8,233.5 H88.3 M95.5,233.5 H104" stroke="#000000" stroke-width="1.1"/>
<rect x="89.9" y="231.5" width="4" height="4" fill="#000000"/>
<text x="107.2" y="237.8" font-size="10.4">T<tspan font-size="7" dy="4.3" x="113.4">0</tspan><tspan dy="-3.5" x="119.7" font-size="10.8">=</tspan><tspan dy="-0.8" x="129.6">208</tspan><tspan x="150.5">MeV</tspan></text>
<rect x="280.5" y="77.6" width="48.3" height="14.6" fill="#fff" stroke="#555" stroke-width="0.9"/>
<text x="283.3" y="88.6" font-size="10.15">Set Local</text>
<rect x="231.7" y="175.1" width="32.2" height="15.4" fill="#fff" stroke="#555" stroke-width="0.9"/>
<text x="235.3" y="187.3" font-size="10.1">Set B</text>
</g>
<path d="M304.9,92.2 L290.27,106.37" stroke="#222" stroke-width="0.55" fill="none"/><path d="M286.1,110.4 L289.15,105.22 L291.38,107.52 Z" fill="#000"/>
<path d="M304.9,92.2 L289.73,130.61" stroke="#222" stroke-width="0.55" fill="none"/><path d="M287.6,136.0 L288.24,130.02 L291.22,131.19 Z" fill="#000"/>
<path d="M248.8,175.1 L257.10,150.50" stroke="#222" stroke-width="0.55" fill="none"/><path d="M258.95,145.0 L258.61,151.01 L255.58,149.98 Z" fill="#000"/>
<path d="M248.8,175.1 L272.17,147.24" stroke="#222" stroke-width="0.55" fill="none"/><path d="M275.9,142.8 L273.40,148.27 L270.95,146.21 Z" fill="#000"/>
</svg>
</body></html>
